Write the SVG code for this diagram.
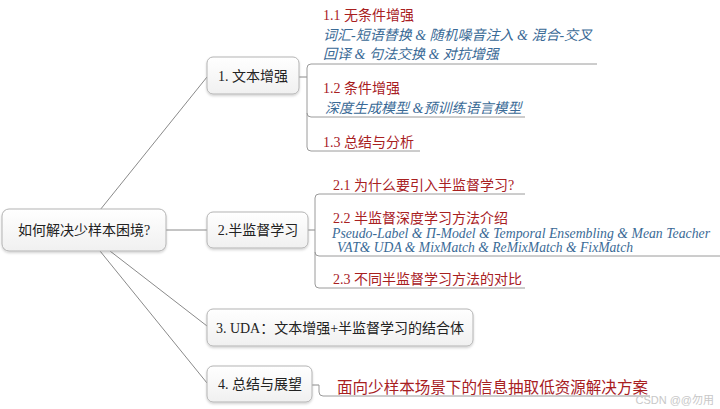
<svg xmlns="http://www.w3.org/2000/svg" width="720" height="409" viewBox="0 0 720 409">
<defs>
<linearGradient id="boxg" x1="0" y1="0" x2="0" y2="1">
<stop offset="0" stop-color="#ffffff"/>
<stop offset="1" stop-color="#f0f0f0"/>
</linearGradient>
<filter id="sh" x="-10%" y="-20%" width="120%" height="150%">
<feDropShadow dx="0" dy="1.5" stdDeviation="1.2" flood-color="#000" flood-opacity="0.18"/>
</filter>
</defs>
<style>
.box{fill:url(#boxg);stroke:#b4b4b4;stroke-width:1;filter:url(#sh)}
.nt{font-family:"Liberation Serif","Noto Sans CJK SC",serif;font-size:14px;fill:#222;text-anchor:middle}
.red{font-family:"Liberation Serif","Noto Sans CJK SC",serif;font-size:14px;fill:#a8201f}
.blue{font-family:"Liberation Serif","Noto Sans CJK SC",serif;font-size:14px;fill:#3a6a96;font-style:italic}
.ln{fill:none;stroke:#8a8a8a;stroke-width:1}
.ul{fill:none;stroke:#9a9a9a;stroke-width:1}
</style>
<rect width="720" height="409" fill="#ffffff"/>
<g id="connectors">
<path class="ln" d="M100,210 L207,77"/>
<path class="ln" d="M166,230 L207,230"/>
<path class="ln" d="M110,251 L207,326"/>
<path class="ln" d="M100,251 L207,383"/>
<path class="ln" d="M299,77 H307"/>
<path class="ul" d="M597,64 H311 Q307,64 307,68 V147 Q307,151 311,151 H420"/>
<path class="ul" d="M307,113 Q307,117 311,117 H525"/>
<path class="ln" d="M308,230 H315"/>
<path class="ul" d="M525,194 H319 Q315,194 315,198 V284 Q315,288 319,288 H525"/>
<path class="ul" d="M315,252 Q315,256 319,256 H720"/>
<path class="ln" d="M312,385 H319"/>
<path class="ul" d="M319,385 V392 Q319,396 323,396 H650"/>
</g>
<g id="root">
<rect class="box" x="2" y="209" width="164" height="42" rx="7"/>
<text class="nt" x="84" y="235">如何解决少样本困境?</text>
</g>
<g id="n1">
<rect class="box" x="207" y="57" width="92" height="37" rx="6"/>
<text class="nt" x="253" y="81">1. 文本增强</text>
</g>
<g id="n1-1">
<text class="red" x="323" y="20">1.1 无条件增强</text>
<text class="blue" x="323" y="40">词汇-短语替换 &amp; 随机噪音注入 &amp; 混合-交叉</text>
<text class="blue" x="323" y="59">回译 &amp; 句法交换 &amp; 对抗增强</text>
</g>
<g id="n1-2">
<text class="red" x="323" y="93">1.2 条件增强</text>
<text class="blue" x="325" y="113">深度生成模型 &amp;预训练语言模型</text>
</g>
<g id="n1-3">
<text class="red" x="323" y="147">1.3 总结与分析</text>
</g>
<g id="n2">
<rect class="box" x="207" y="212" width="101" height="36" rx="6"/>
<text class="nt" x="258" y="235">2.半监督学习</text>
</g>
<g id="n2-1">
<text class="red" x="333" y="190">2.1 为什么要引入半监督学习?</text>
</g>
<g id="n2-2">
<text class="red" x="333" y="223">2.2 半监督深度学习方法介绍</text>
<text class="blue" x="332" y="238" textLength="378" lengthAdjust="spacingAndGlyphs">Pseudo-Label &amp; Π-Model &amp; Temporal Ensembling &amp; Mean Teacher</text>
<text class="blue" x="337" y="252" textLength="296" lengthAdjust="spacingAndGlyphs">VAT&amp; UDA &amp; MixMatch &amp; ReMixMatch &amp; FixMatch</text>
</g>
<g id="n2-3">
<text class="red" x="333" y="284">2.3 不同半监督学习方法的对比</text>
</g>
<g id="n3">
<rect class="box" x="207" y="309" width="266" height="37" rx="6"/>
<text class="nt" x="340" y="333">3. UDA：文本增强+半监督学习的结合体</text>
</g>
<g id="n4">
<rect class="box" x="207" y="366" width="105" height="36" rx="6"/>
<text class="nt" x="260" y="389">4. 总结与展望</text>
</g>
<g id="n4-1">
<text class="red" x="337" y="393" style="font-size:16px" textLength="311" lengthAdjust="spacingAndGlyphs">面向少样本场景下的信息抽取低资源解决方案</text>
</g>
<text x="714" y="404" style="font-family:'Liberation Sans','Noto Sans CJK SC',sans-serif;font-size:11px;fill:#c8c8c8;text-anchor:end">CSDN @@勿用</text>
</svg>
